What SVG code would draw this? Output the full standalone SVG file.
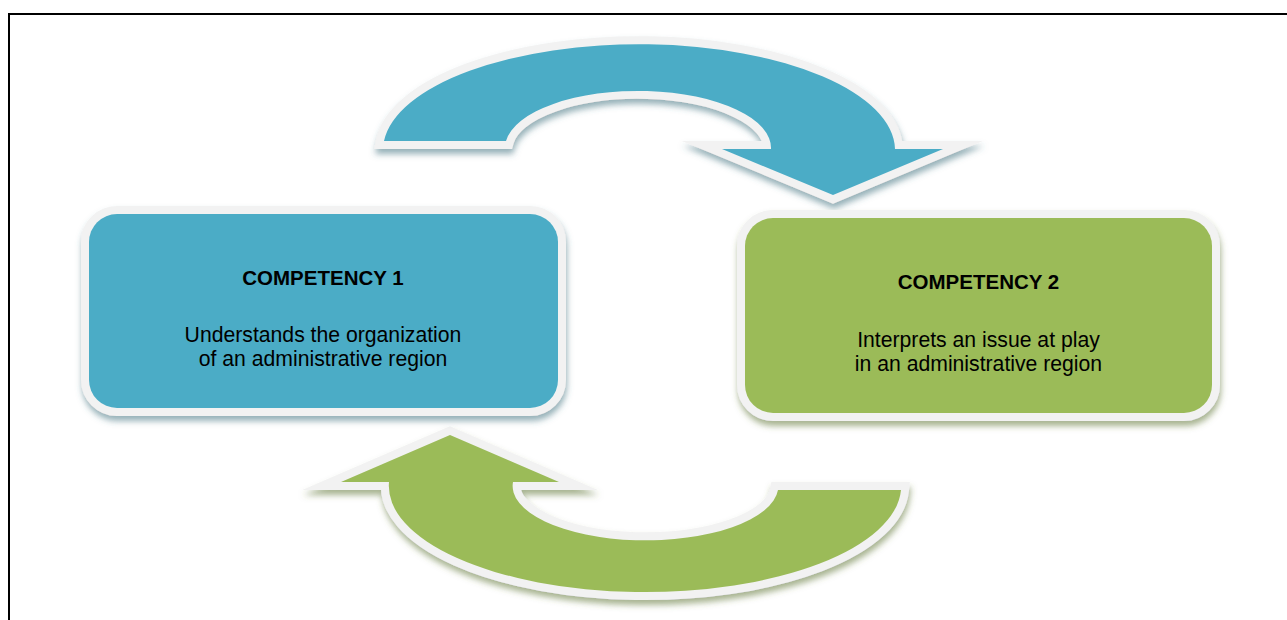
<svg xmlns="http://www.w3.org/2000/svg" width="1287" height="620" viewBox="0 0 1287 620">
  <defs>
    <filter id="shTeal" x="-10%" y="-10%" width="120%" height="130%">
      <feDropShadow dx="1" dy="5" stdDeviation="3" flood-color="#3d6f7d" flood-opacity="0.55"/>
    </filter>
    <filter id="shGreen" x="-10%" y="-10%" width="120%" height="130%">
      <feDropShadow dx="1" dy="5" stdDeviation="3" flood-color="#5f7534" flood-opacity="0.55"/>
    </filter>
    <style>
      .teal { fill: #4BACC6; }
      .green { fill: #9BBB59; }
      .shape { stroke: #F2F2F2; stroke-width: 16; paint-order: stroke; stroke-linejoin: miter; stroke-miterlimit: 8; }
      .title { font-family: "Liberation Sans", Arial, sans-serif; font-weight: bold; font-size: 20.5px; fill: #000; text-anchor: middle; }
      .body { font-family: "Liberation Sans", Arial, sans-serif; font-size: 21.2px; fill: #000; text-anchor: middle; }
      .frame { stroke: #000; stroke-width: 2; fill: none; }
    </style>
  </defs>
  <rect width="1287" height="620" fill="#fff"/>
  <path class="frame" d="M9,620 V14 H1287"/>

  <g id="connectors">
    <g id="arrow-top" filter="url(#shTeal)">
      <path class="shape teal" d="M384,141 A256,106 0 0 1 895,149 L943,149 L833,195 L722,149 L771,149 A133,57 0 0 0 506,141 Z"/>
    </g>
    <g id="arrow-bottom" filter="url(#shGreen)">
      <path class="shape green" d="M450,435 L559,482 L513,482 A132,54 0 0 0 778,490 L901,490 A256,106 0 0 1 389,482 L341,482 Z"/>
    </g>
  </g>

  <g id="competency1">
    <rect class="shape teal" x="89" y="214" width="469" height="194" rx="28" filter="url(#shTeal)"/>
    <text class="title" x="323" y="285">COMPETENCY 1</text>
    <text class="body" x="323" y="342">Understands the organization</text>
    <text class="body" x="323" y="366">of an administrative region</text>
  </g>

  <g id="competency2">
    <rect class="shape green" x="745" y="218" width="467" height="195" rx="28" filter="url(#shGreen)"/>
    <text class="title" x="978.5" y="289">COMPETENCY 2</text>
    <text class="body" x="978.5" y="347">Interprets an issue at play</text>
    <text class="body" x="978.5" y="371">in an administrative region</text>
  </g>
</svg>
